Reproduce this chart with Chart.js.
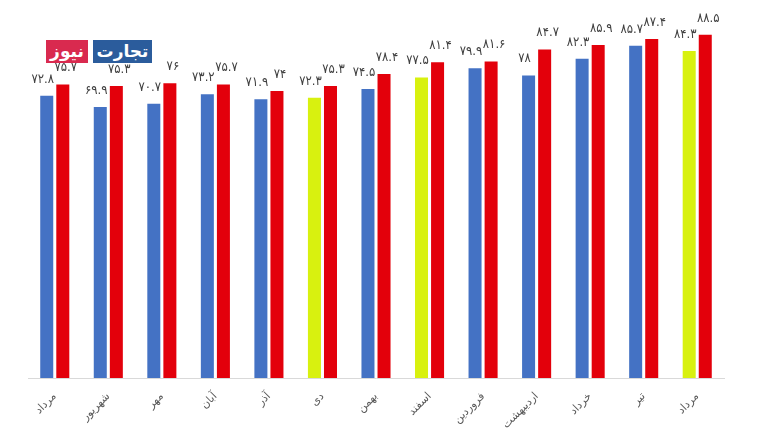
<!DOCTYPE html>
<html lang="fa">
<head>
<meta charset="utf-8">
<title>نمودار ماهانه</title>
<script src="https://cdn.jsdelivr.net/npm/chart.js@4"></script>
<style>
  html, body { margin: 0; padding: 0; background: #fff; }
  #wrap { position: relative; width: 760px; height: 428px; }
  #logo { position: absolute; left: 46px; top: 40px; display: flex; gap: 5px; font-family: "DejaVu Sans", sans-serif; font-weight: bold; font-size: 17px; color: #fff; }
  #logo span { display: block; height: 23px; line-height: 23px; text-align: center; }
  #logo .red { background: #d92a4f; width: 42px; }
  #logo .blue { background: #2b5c9c; width: 59px; }
</style>
</head>
<body>
<div id="wrap">
  <canvas id="grafico" width="760" height="428"></canvas>
  <div id="logo"><span class="red">نیوز</span><span class="blue">تجارت</span></div>
</div>
<script>
// Dados
const meses = ['مرداد', 'شهریور', 'مهر', 'آبان', 'آذر', 'دی', 'بهمن', 'اسفند', 'فروردین', 'اردیبهشت', 'خرداد', 'تیر', 'مرداد'];
const serieA = [72.8, 69.9, 70.7, 73.2, 71.9, 72.3, 74.5, 77.5, 79.9, 78, 82.3, 85.7, 84.3];
const serieB = [75.7, 75.3, 76, 75.7, 74, 75.3, 78.4, 81.4, 81.6, 84.7, 85.9, 87.4, 88.5];
const destacados = [5, 7, 12]; // barras amarelas

// Dígitos persas
function paraPersa(v) {
  const d = '۰۱۲۳۴۵۶۷۸۹';
  return String(v).replace(/[0-9]/g, (c) => d[c]);
}

// Rótulos acima das barras (azul um pouco à esquerda, vermelho à direita)
const deslocX = [-4, 3];
const rotulos = {
  id: 'rotulos',
  afterDatasetsDraw(chart) {
    const ctx = chart.ctx;
    ctx.save();
    ctx.font = '13px "DejaVu Sans Condensed", "DejaVu Sans", sans-serif';
    ctx.fillStyle = '#404040';
    ctx.textAlign = 'center';
    ctx.textBaseline = 'bottom';
    chart.data.datasets.forEach((ds, i) => {
      chart.getDatasetMeta(i).data.forEach((bar, j) => {
        ctx.fillText(paraPersa(ds.data[j]), bar.x + deslocX[i], bar.y - 10);
      });
    });
    ctx.restore();
  },
};

new Chart(document.getElementById('grafico'), {
  type: 'bar',
  data: {
    labels: meses,
    datasets: [
      {
        data: serieA,
        backgroundColor: (c) => (destacados.includes(c.dataIndex) ? '#d8f10f' : '#4472c4'),
      },
      {
        data: serieB,
        backgroundColor: '#e3000b',
      },
    ],
  },
  options: {
    responsive: false,
    animation: false,
    datasets: { bar: { categoryPercentage: 0.6, barPercentage: 0.81 } },
    layout: { padding: { left: 28, right: 36, top: 29, bottom: 0 } },
    plugins: { legend: { display: false }, tooltip: { enabled: false } },
    scales: {
      x: {
        grid: { display: false },
        border: { color: '#d9d9d9', width: 1 },
        ticks: {
          minRotation: 45,
          maxRotation: 45,
          color: '#595959',
          padding: 4,
          font: { family: '"DejaVu Sans", sans-serif', size: 11 },
        },
        afterFit: (scale) => { scale.height = 50; },
      },
      y: { display: false, min: 0, max: 90 },
    },
  },
  plugins: [rotulos],
});
</script>
</body>
</html>
